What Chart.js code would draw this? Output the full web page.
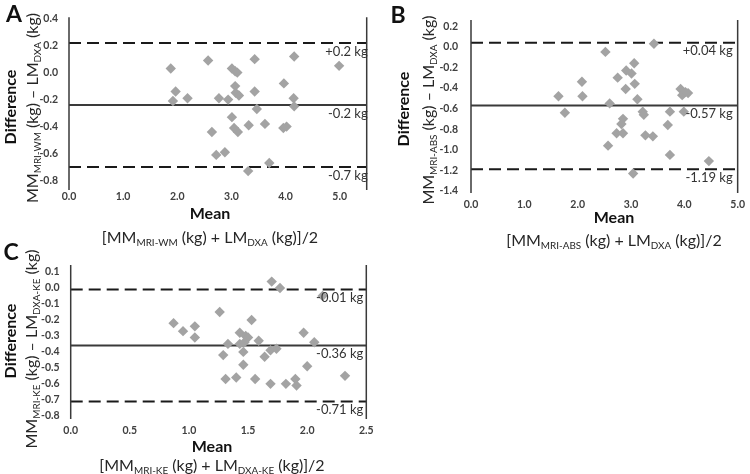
<!DOCTYPE html>
<html><head><meta charset="utf-8">
<script src="https://cdn.jsdelivr.net/npm/chart.js@4"></script>
<style>
html,body{margin:0;padding:0;background:#fff;}
body{width:750px;height:474px;position:relative;overflow:hidden;font-family:Lato,"Open Sans",sans-serif;color:#262626;}
canvas{position:absolute;}
.t{position:absolute;white-space:nowrap;line-height:1;}
.panel{font-weight:bold;font-size:23px;color:#111;transform:translate(-50%,-50%);}
.rot{transform:translate(-50%,-50%) rotate(-90deg);}
.ctr{transform:translate(-50%,-50%);}
.b{font-weight:bold;font-size:16px;color:#111;}
.n{font-size:16px;color:#262626;}
sub{font-size:0.62em;vertical-align:-0.28em;line-height:0;}
</style></head><body>
<canvas id="cA" width="380" height="215" style="left:0;top:0"></canvas>
<canvas id="cB" width="375" height="215" style="left:375px;top:0"></canvas>
<canvas id="cC" width="380" height="200" style="left:0;top:237px"></canvas>

<div class="t panel" style="left:14px;top:13px">A</div>
<div class="t panel" style="left:398px;top:14px">B</div>
<div class="t panel" style="left:11px;top:251px">C</div>

<div class="t b rot" style="left:10px;top:107px">Difference</div>
<div class="t n rot" style="left:32px;top:108px">MM<sub>MRI-WM</sub> (kg) – LM<sub>DXA</sub> (kg)</div>
<div class="t b ctr" style="left:210px;top:213px">Mean</div>
<div class="t n ctr" style="left:210px;top:237px">[MM<sub>MRI-WM</sub> (kg) + LM<sub>DXA</sub> (kg)]/2</div>

<div class="t b rot" style="left:403px;top:109px">Difference</div>
<div class="t n rot" style="left:428px;top:110px">MM<sub>MRI-ABS</sub> (kg) – LM<sub>DXA</sub> (kg)</div>
<div class="t b ctr" style="left:614px;top:217px">Mean</div>
<div class="t n ctr" style="left:614px;top:240px">[MM<sub>MRI-ABS</sub> (kg) + LM<sub>DXA</sub> (kg)]/2</div>

<div class="t b rot" style="left:10px;top:341px">Difference</div>
<div class="t n rot" style="left:31px;top:349px">MM<sub>MRI-KE</sub> (kg) – LM<sub>DXA-KE</sub> (kg)</div>
<div class="t b ctr" style="left:212px;top:446px">Mean</div>
<div class="t n ctr" style="left:212px;top:465px">[MM<sub>MRI-KE</sub> (kg) + LM<sub>DXA-KE</sub> (kg)]/2</div>

<script>
// ---- Panel A data ----
const xA = [1.88,2.57,3.43,4.16,4.99,3.01,3.07,3.11,1.97,1.92,2.19,2.77,2.94,3.07,3.08,3.14,3.43,3.97,4.15,4.16,3.47,3.01,2.64,3.05,3.12,3.32,3.62,3.96,4.02,2.72,2.88,3.31,3.70];
const yA = [0.03,0.09,0.10,0.12,0.05,0.03,0.01,0.00,-0.14,-0.21,-0.19,-0.19,-0.20,-0.10,-0.15,-0.17,-0.14,-0.08,-0.19,-0.25,-0.27,-0.33,-0.44,-0.41,-0.44,-0.39,-0.38,-0.41,-0.40,-0.61,-0.59,-0.73,-0.67];
const limitsA = [0.22,-0.24,-0.70];
const limitLabelsA = ["+0.2 kg","-0.2 kg","-0.7 kg"];
const xTicksA = [0,1,2,3,4,5];
const yTicksA = [0.4,0.2,0,-0.2,-0.4,-0.6,-0.8];

// ---- Panel B data ----
const xB = [1.64,1.76,2.08,2.09,2.52,2.60,2.57,2.75,2.73,2.85,2.85,2.82,2.91,2.90,3.01,3.06,3.07,3.12,3.04,3.22,3.24,3.27,3.41,3.43,3.73,3.69,3.73,3.99,3.93,3.96,4.02,4.07,4.46];
const yB = [-0.48,-0.64,-0.34,-0.48,-0.05,-0.55,-0.96,-0.30,-0.84,-0.84,-0.70,-0.75,-0.23,-0.41,-0.26,-0.16,-0.36,-0.51,-1.23,-0.63,-0.66,-0.86,-0.87,0.03,-0.63,-0.76,-1.05,-0.63,-0.41,-0.47,-0.44,-0.45,-1.11];
const limitsB = [0.04,-0.57,-1.19];
const limitLabelsB = ["+0.04 kg","-0.57 kg","-1.19 kg"];
const xTicksB = [0,1,2,3,4,5];
const yTicksB = [0.2,0,-0.2,-0.4,-0.6,-0.8,-1.0,-1.2,-1.4];

// ---- Panel C data ----
const xC = [0.87,0.95,1.05,1.05,1.26,1.33,1.29,1.31,1.40,1.43,1.48,1.50,1.59,1.43,1.47,1.46,1.46,1.56,1.64,1.53,1.69,1.74,1.69,1.82,1.90,1.91,1.97,2.00,2.06,1.70,1.77,2.13,2.32];
const yC = [-0.22,-0.27,-0.24,-0.31,-0.15,-0.35,-0.42,-0.57,-0.56,-0.28,-0.30,-0.31,-0.33,-0.35,-0.34,-0.40,-0.48,-0.57,-0.43,-0.20,-0.39,-0.38,-0.60,-0.60,-0.57,-0.61,-0.28,-0.49,-0.34,0.04,0.00,-0.05,-0.55];
const limitsC = [-0.01,-0.36,-0.71];
const limitLabelsC = ["-0.01 kg","-0.36 kg","-0.71 kg"];
const xTicksC = [0,0.5,1,1.5,2,2.5];
const yTicksC = [0.1,0,-0.1,-0.2,-0.3,-0.4,-0.5,-0.6,-0.7,-0.8];

const FONT = 'Lato, "Open Sans", sans-serif';

const framePlugin = {
  id: 'frame',
  afterDatasetsDraw(chart, args, opts) {
    const ctx = chart.ctx, a = chart.chartArea;
    const ys = chart.scales.y;
    ctx.save();
    ctx.strokeStyle = '#3a3a3a';
    ctx.lineWidth = 1.5;
    ctx.beginPath();
    ctx.moveTo(a.left, a.top); ctx.lineTo(a.left, a.bottom);
    ctx.moveTo(a.right, a.top); ctx.lineTo(a.right, a.bottom);
    ctx.stroke();
    ctx.fillStyle = '#333333';
    ctx.font = '13px ' + FONT;
    ctx.textAlign = 'right';
    ctx.textBaseline = 'middle';
    opts.values.forEach((v, i) => {
      const py = ys.getPixelForValue(v);
      ctx.fillText(opts.labels[i], a.right - 1 + (opts.dx || 0), py + 8.5);
    });
    ctx.restore();
  }
};

function makeChart(id, xs, ys, limits, labels, xTicks, yTicks, g) {
  const pts = xs.map((x, i) => ({x: x, y: ys[i]}));
  const lineSets = limits.map((v, i) => ({
    data: [{x: g.xmin, y: v}, {x: g.xmax, y: v}],
    showLine: true,
    borderColor: i === 1 ? '#3a3a3a' : '#1a1a1a',
    borderWidth: 2,
    borderDash: i === 1 ? [] : [12, 6],
    pointRadius: 0,
    fill: false
  }));
  new Chart(document.getElementById(id), {
    type: 'scatter',
    data: {
      datasets: [{
        data: pts,
        pointStyle: 'rectRot',
        pointRadius: 5.2,
        backgroundColor: '#a3a3a3',
        borderColor: '#a3a3a3',
        borderWidth: 0
      }].concat(lineSets)
    },
    options: {
      responsive: false,
      animation: false,
      devicePixelRatio: 1,
      layout: {padding: {left: 0, top: g.top, right: g.right, bottom: 0}},
      plugins: {
        legend: {display: false},
        tooltip: {enabled: false},
        frame: {values: limits, labels: labels, dx: g.dx}
      },
      scales: {
        x: {
          type: 'linear', min: g.xmin, max: g.xmax,
          grid: {display: false, drawTicks: false},
          border: {display: false},
          ticks: {
            padding: g.xpad, color: '#404040',
            font: {family: FONT, size: 10.5, weight: 'bold'},
            callback: v => Number(v).toFixed(1),
            maxRotation: 0
          },
          afterBuildTicks: s => { s.ticks = xTicks.map(v => ({value: v})); },
          afterFit: s => { s.height = g.xh; }
        },
        y: {
          type: 'linear', min: g.ymin, max: g.ymax,
          grid: {display: false, drawTicks: false},
          border: {display: false},
          ticks: {
            padding: g.ypad, color: '#404040',
            font: {family: FONT, size: 10.5, weight: 'bold'},
            callback: v => Number(v).toFixed(1)
          },
          afterBuildTicks: s => { s.ticks = yTicks.map(v => ({value: v})); },
          afterFit: s => { s.width = g.yw; }
        }
      }
    },
    plugins: [framePlugin]
  });
}

makeChart('cA', xA, yA, limitsA, limitLabelsA, xTicksA, yTicksA,
  {xmin: 0, xmax: 5.5, ymin: -0.87, ymax: 0.41, top: 16.7, right: 13.3, xh: 25, yw: 69, xpad: 0, ypad: 11, dx: 2});
makeChart('cB', xB, yB, limitsB, limitLabelsB, xTicksB, yTicksB,
  {xmin: 0, xmax: 5.0, ymin: -1.42, ymax: 0.26, top: 20, right: 9, xh: 22, yw: 96, xpad: 5, ypad: 13, dx: -4});
makeChart('cC', xC, yC, limitsC, limitLabelsC, xTicksC, yTicksC,
  {xmin: 0, xmax: 2.5, ymin: -0.82, ymax: 0.144, top: 28, right: 13.7, xh: 18, yw: 70.7, xpad: 5, ypad: 11, dx: -2});
</script>
</body></html>
